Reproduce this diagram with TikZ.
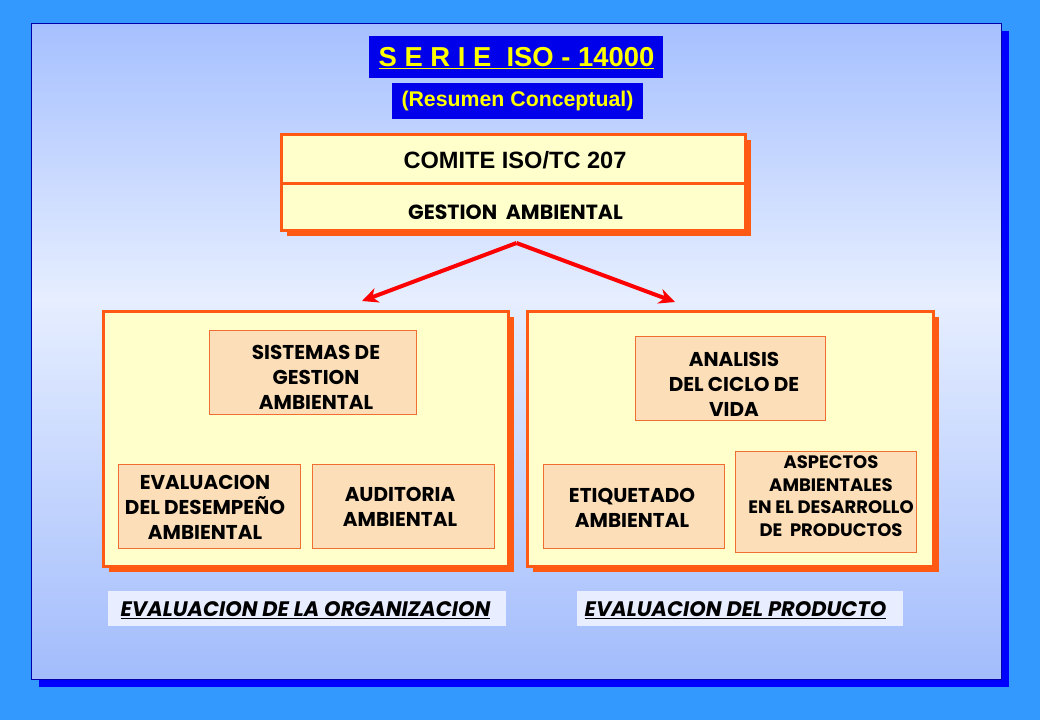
\documentclass[tikz,border=0pt]{standalone}
\usepackage{fontspec}
\setmainfont{Liberation Sans}
\newfontfamily\gothic{Poppins}
\usetikzlibrary{arrows.meta,shadows}
\definecolor{outerblue}{RGB}{51,153,255}
\definecolor{ptop}{RGB}{166,192,255}
\definecolor{pmid}{RGB}{230,238,255}
\definecolor{pbot}{RGB}{162,188,252}
\definecolor{shadowblue}{RGB}{0,0,255}
\definecolor{frameblue}{RGB}{0,0,170}
\definecolor{titleblue}{RGB}{0,0,235}
\definecolor{titleyellow}{RGB}{255,255,0}
\definecolor{orangeline}{RGB}{255,90,20}
\definecolor{cream}{RGB}{255,255,204}
\definecolor{peach}{RGB}{252,222,184}
\definecolor{peachline}{RGB}{240,110,50}
\definecolor{labelfill}{RGB}{232,238,255}
\definecolor{arrowred}{RGB}{255,0,0}
\pgfdeclareverticalshading{panelshade}{100bp}{color(0bp)=(pbot); color(25bp)=(pbot); color(54bp)=(pmid); color(75bp)=(ptop); color(100bp)=(ptop)}
\begin{document}
\begin{tikzpicture}[x=1pt,y=-1pt,
  bluebox/.style={fill=titleblue, inner sep=0pt},
  creambox/.style={draw=orangeline, line width=3pt, fill=cream, inner sep=0pt,
     drop shadow={shadow xshift=6pt, shadow yshift=-6pt, fill=orangeline, opacity=1}},
  peachbox/.style={draw=peachline, line width=0.8pt, fill=peach, inner sep=0pt},
  labelbox/.style={fill=labelfill, inner sep=0pt},
  boxtext/.style={align=center, inner sep=0pt, font=\gothic\bfseries\fontsize{20}{25}\selectfont},
  smalltext/.style={align=center, inner sep=0pt, font=\gothic\bfseries\fontsize{18}{22.7}\selectfont},
  labeltext/.style={inner sep=0pt, font=\gothic\bfseries\itshape\fontsize{21}{24}\selectfont},
  redarrow/.style={draw=arrowred, line width=4pt, -{Stealth[length=16pt,width=15pt,inset=5pt]}}]
\useasboundingbox (0,0) rectangle (1040,720);
\fill[outerblue] (0,0) rectangle (1040,720);
\node[minimum width=970pt, minimum height=656pt, inner sep=0pt, shading=panelshade, draw=frameblue, line width=1pt,
  drop shadow={shadow xshift=8pt, shadow yshift=-8pt, fill=shadowblue, opacity=1}] (panel) at (516,351) {};
% title
\node[bluebox, minimum width=294pt, minimum height=42pt] (titlebox) at (516,57) {};
\node[inner sep=0pt, text=titleyellow, font=\bfseries\fontsize{27.4}{30}\selectfont] (title) at (516.5,58) {\underline{S E R I E\ \ ISO - 14000}};
\node[bluebox, minimum width=251pt, minimum height=36pt] (subbox) at (517.5,101) {};
\node[inner sep=0pt, text=titleyellow, font=\bfseries\fontsize{21.3}{24}\selectfont] (subtitle) at (517.5,101) {(Resumen Conceptual)};
% committee
\node[creambox, minimum width=464pt, minimum height=49pt] (comitebox) at (513,158.5) {};
\node[inner sep=0pt, font=\bfseries\fontsize{23.6}{26}\selectfont] (comite) at (515,160) {COMITE ISO/TC 207};
\node[creambox, minimum width=464pt, minimum height=47pt] (gestionbox) at (513,206.5) {};
\node[inner sep=0pt, font=\gothic\bfseries\fontsize{20.5}{24}\selectfont] (gestion) at (515.5,212.5) {GESTION\ \ AMBIENTAL};
% arrows
\coordinate (apex) at (516.5,243);
\coordinate (lt) at (362,301);
\coordinate (rt) at (675,302);
\draw[redarrow] (apex) -- (lt);
\draw[redarrow] (apex) -- (rt);
% panels
\node[creambox, minimum width=405pt, minimum height=255pt] (lpanel) at (305.5,438.5) {};
\node[creambox, minimum width=406pt, minimum height=255pt] (rpanel) at (730,438.5) {};
% left inner boxes
\node[peachbox, minimum width=207pt, minimum height=84pt] (sistbox) at (312.5,372) {};
\node[boxtext] (sist) at (316,377) {SISTEMAS DE\\GESTION\\AMBIENTAL};
\node[peachbox, minimum width=182pt, minimum height=84pt] (evalbox) at (209,506) {};
\node[boxtext] (eval) at (205,507) {EVALUACION\\DEL DESEMPEÑO\\AMBIENTAL};
\node[peachbox, minimum width=182pt, minimum height=84pt] (audbox) at (403,506) {};
\node[boxtext] (aud) at (400,506.5) {AUDITORIA\\AMBIENTAL};
% right inner boxes
\node[peachbox, minimum width=190pt, minimum height=84pt] (anabox) at (730,378) {};
\node[boxtext] (ana) at (734,384) {ANALISIS\\DEL CICLO DE\\VIDA};
\node[peachbox, minimum width=181pt, minimum height=84pt] (etiqbox) at (633.5,506) {};
\node[boxtext] (etiq) at (632,508) {ETIQUETADO\\AMBIENTAL};
\node[peachbox, minimum width=181pt, minimum height=101pt] (aspbox) at (825.5,501.5) {};
\node[smalltext] (asp) at (831,496) {ASPECTOS\\AMBIENTALES\\EN EL DESARROLLO\\DE\ \ PRODUCTOS};
% labels
\node[labelbox, minimum width=398pt, minimum height=35pt] (orgbox) at (307,608.5) {};
\node[labeltext] (org) at (305.5,610) {\underline{EVALUACION DE LA ORGANIZACION}};
\node[labelbox, minimum width=326pt, minimum height=35pt] (prodbox) at (740,608.5) {};
\node[labeltext] (prod) at (735.5,610) {\underline{EVALUACION DEL PRODUCTO}};
\end{tikzpicture}
\end{document}
